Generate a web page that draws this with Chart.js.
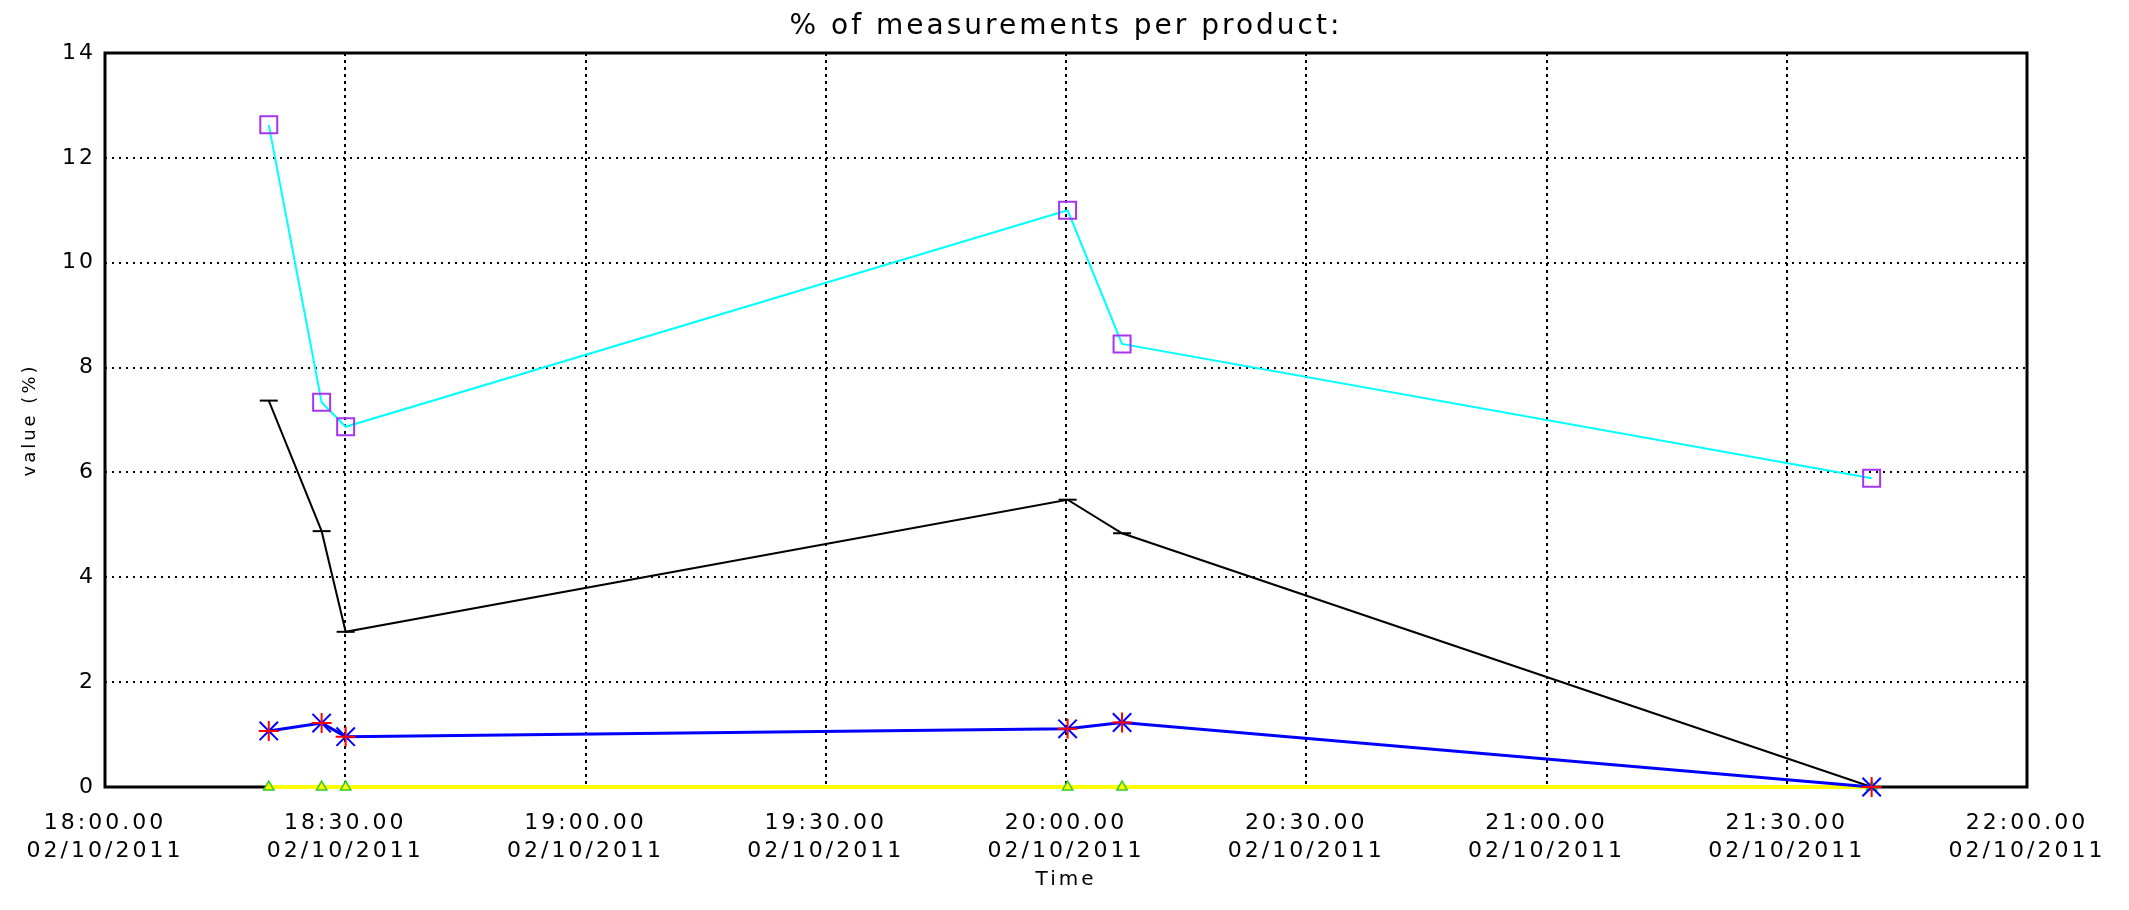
<!DOCTYPE html>
<html>
<head>
<meta charset="utf-8">
<title>% of measurements per product</title>
<script src="https://cdn.jsdelivr.net/npm/chart.js@4.4.0/dist/chart.umd.min.js"></script>
<style>
  html, body { margin: 0; padding: 0; background: #fff; }
</style>
</head>
<body>
<canvas id="chart" width="2129" height="910"></canvas>
<script>
// sample times (all on 02/10/2011)
const sampleTimes = ['18:20:27', '18:27:03', '18:30:03', '20:00:12', '20:07:00', '21:40:36'];

// % of measurements for each product
const productCyan   = [12.63, 7.34, 6.87, 11.0, 8.45, 5.89];
const productBlack  = [7.37, 4.88, 2.96, 5.48, 4.84, 0];
const productBlue   = [1.07, 1.22, 0.96, 1.11, 1.23, 0];
const productYellow = [0, 0, 0, 0, 0, 0];

// x axis: minutes after 18:00
const xTickLabels = ['18:00.00', '18:30.00', '19:00.00', '19:30.00', '20:00.00',
                     '20:30.00', '21:00.00', '21:30.00', '22:00.00'];
const dateLabel = '02/10/2011';
const yTicks = [0, 2, 4, 6, 8, 10, 12, 14];

function toMinutes(t) {
  const [h, m, s] = t.split(':').map(Number);
  return (h - 18) * 60 + m + s / 60;
}
const xs = sampleTimes.map(toMinutes);
const pts = vals => vals.map((v, i) => ({ x: xs[i], y: v }));

const FONT = 'DejaVu Sans';
const SPACING = '3px';

// wide lettering + the box round the plot area
const framePlugin = {
  id: 'frame',
  beforeLayout(chart) { chart.ctx.letterSpacing = SPACING; },
  beforeDraw(chart) { chart.ctx.letterSpacing = SPACING; },
  beforeDatasetsDraw(chart) {
    const { ctx, chartArea: a } = chart;
    ctx.save();
    ctx.strokeStyle = '#000';
    ctx.lineWidth = 3;
    ctx.strokeRect(a.left, a.top, a.right - a.left, a.bottom - a.top);
    ctx.restore();
  }
};

const datasets = [
  {
    label: 'blue marks',
    data: pts(productBlue),
    showLine: false,
    pointStyle: 'cross',
    pointRadius: 10,
    pointBorderColor: '#ff0000',
    pointBorderWidth: 2
  },
  {
    label: 'blue',
    data: pts(productBlue),
    borderColor: '#0000ff',
    borderWidth: 3,
    pointStyle: 'crossRot',
    pointRadius: 13,
    pointBorderColor: '#0000ff',
    pointBorderWidth: 2
  },
  {
    label: 'black',
    data: pts(productBlack),
    borderColor: '#000000',
    borderWidth: 2,
    pointStyle: 'line',
    pointRadius: 9,
    pointBorderColor: '#000000',
    pointBorderWidth: 2
  },
  {
    label: 'cyan',
    data: pts(productCyan),
    borderColor: '#00ffff',
    borderWidth: 2,
    pointStyle: 'rect',
    pointRadius: 12,
    pointBorderColor: '#a535f0',
    pointBackgroundColor: 'rgba(0,0,0,0)',
    pointBorderWidth: 2
  },
  {
    label: 'yellow',
    data: pts(productYellow),
    borderColor: '#ffff00',
    borderWidth: 4,
    pointStyle: 'triangle',
    pointRadius: 6,
    pointBorderColor: '#33cc22',
    pointBackgroundColor: '#ffff00',
    pointBorderWidth: 1.5
  }
].map(d => Object.assign({ clip: false, tension: 0, fill: false }, d));

const tickFont = { family: FONT, size: 22, lineHeight: 1.3 };

new Chart(document.getElementById('chart').getContext('2d'), {
  type: 'scatter',
  data: { datasets: datasets },
  plugins: [framePlugin],
  options: {
    responsive: false,
    animation: false,
    events: [],
    showLine: true,
    layout: { padding: { left: 0, right: 102, top: 0, bottom: 0 } },
    plugins: {
      legend: { display: false },
      tooltip: { enabled: false },
      title: {
        display: true,
        fullSize: false,
        text: '% of measurements per product:',
        color: '#000',
        font: { family: FONT, size: 28, weight: 'normal', lineHeight: 1.2 },
        padding: { top: 10.2, bottom: 9.2 }
      }
    },
    scales: {
      x: {
        type: 'linear',
        min: 0,
        max: 240,
        afterBuildTicks(scale) {
          scale.ticks = xTickLabels.map((_, i) => ({ value: i * 30 }));
        },
        afterFit(scale) { scale.height = 123; },
        ticks: {
          color: '#000',
          font: tickFont,
          padding: 21.5,
          maxRotation: 0,
          autoSkip: false,
          callback: v => [xTickLabels[Math.round(v / 30)], dateLabel]
        },
        grid: { color: '#000', lineWidth: 2, drawTicks: false },
        border: { display: false, dash: [3, 4] },
        title: {
          display: true,
          text: 'Time',
          color: '#000',
          font: { family: FONT, size: 20, lineHeight: 1.2 },
          padding: { top: 0, bottom: 18 }
        }
      },
      y: {
        min: 0,
        max: 14,
        afterBuildTicks(scale) {
          scale.ticks = yTicks.map(v => ({ value: v }));
        },
        afterFit(scale) { scale.width = 105; },
        ticks: {
          color: '#000',
          font: { family: FONT, size: 22 },
          padding: 9
        },
        grid: { color: '#000', lineWidth: 2, drawTicks: false },
        border: { display: false, dash: [2, 5] },
        title: {
          display: true,
          text: 'value (%)',
          color: '#000',
          font: { family: FONT, size: 18, lineHeight: 1.2 },
          padding: { top: 19.2, bottom: 0 }
        }
      }
    }
  }
});
</script>
</body>
</html>
